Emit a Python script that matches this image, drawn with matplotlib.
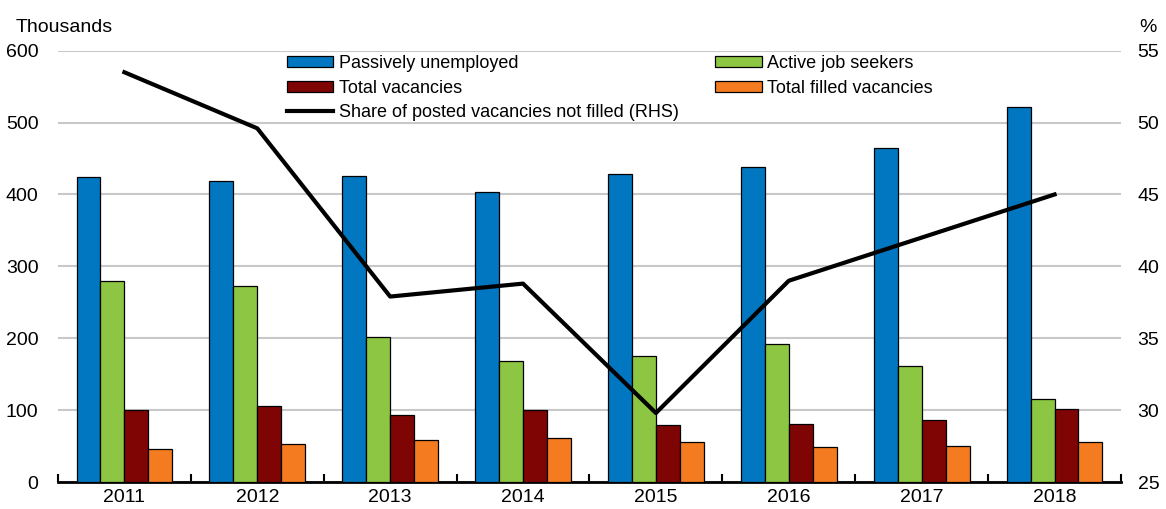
import numpy as np
import matplotlib
matplotlib.use('Agg')
import matplotlib.pyplot as plt
from matplotlib import font_manager

years = ['2011', '2012', '2013', '2014', '2015', '2016', '2017', '2018']
passive = [424, 419, 425, 403, 429, 438, 464, 522]
active = [280, 273, 202, 169, 175, 192, 162, 116]
vacancies = [100, 106, 93, 100, 79, 81, 86, 101]
filled = [46, 53, 58, 61, 55, 49, 50, 55]
share_unfilled = [53.5, 49.6, 37.9, 38.8, 29.8, 39.0, 42.0, 45.0]

names = {f.name for f in font_manager.fontManager.ttflist}
fam = 'Liberation Sans Narrow' if 'Liberation Sans Narrow' in names else 'Liberation Sans'
plt.rcParams['font.family'] = [fam, 'DejaVu Sans']
FS = 14
LFS = 13

COLORS = {
    'passive': '#0077C0',
    'active': '#8DC642',
    'vac': '#7F0505',
    'filled': '#F47B20',
}

fig = plt.figure(figsize=(11.66, 5.09), dpi=100)
ax = fig.add_axes([0.0497, 0.053, 0.9117, 0.8474])
ax2 = ax.twinx()

x = np.arange(len(years))
w = 0.18
series = [(passive, 'passive', 'Passively unemployed'),
          (active, 'active', 'Active job seekers'),
          (vacancies, 'vac', 'Total vacancies'),
          (filled, 'filled', 'Total filled vacancies')]
bars = []
for i, (vals, key, lab) in enumerate(series):
    b = ax.bar(x + (i - 1.5) * w, vals, w, color=COLORS[key], edgecolor='black',
               linewidth=0.9, label=lab, zorder=3)
    bars.append(b)

line, = ax2.plot(x, share_unfilled, color='black', lw=3, zorder=5,
                 label='Share of posted vacancies not filled (RHS)')

ax.set_xlim(-0.5, len(years) - 0.5)
ax.set_ylim(0, 600)
ax.set_yticks(range(0, 601, 100))
ax2.set_ylim(25, 55)
ax2.set_yticks(range(25, 56, 5))

ax.grid(axis='y', color='#C8C8C8', linewidth=1.5, zorder=0)
ax.set_axisbelow(True)

for a in (ax, ax2):
    for s in ['top', 'left', 'right']:
        a.spines[s].set_visible(False)
ax2.spines['bottom'].set_visible(False)
ax.spines['bottom'].set_linewidth(2)
ax.spines['bottom'].set_color('black')

ax.set_xticks(x)
ax.set_xticklabels(years, fontsize=FS)
ax.tick_params(axis='x', which='major', length=0, pad=5)
ax.set_xticks(np.arange(-0.5, len(years), 1), minor=True)
ax.tick_params(axis='x', which='minor', direction='in', length=6, width=1.5, color='black')
ax.tick_params(axis='y', length=0, labelsize=FS, pad=14)
ax2.tick_params(axis='y', length=0, labelsize=FS, pad=12)

fig.text(0.013, 0.93, 'Thousands', fontsize=FS, ha='left', va='bottom')
fig.text(0.977, 0.93, '%', fontsize=FS, ha='left', va='bottom')

handles = [bars[0], bars[2], line, bars[1], bars[3]]
labels = [h.get_label() for h in handles]
ax2.legend(handles, labels, ncol=2, frameon=False, fontsize=LFS,
           loc='upper left', bbox_to_anchor=(0.215, 0.99),
           handlelength=2.6, handleheight=0.55, handletextpad=0.3,
           labelspacing=0.42, columnspacing=2.0, borderaxespad=0, borderpad=0)

fig.savefig('out.png', dpi=100)
